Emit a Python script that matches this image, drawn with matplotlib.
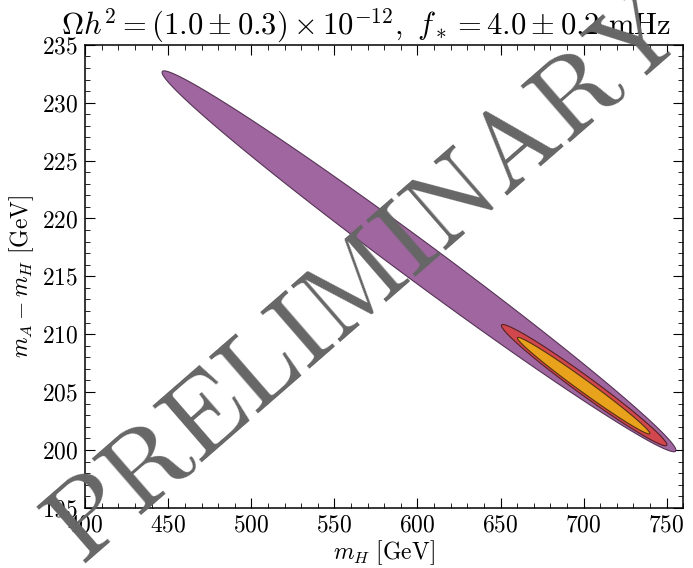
import numpy as np
import matplotlib
matplotlib.use("Agg")
from matplotlib import pyplot as plt

plt.rcParams['font.family'] = ['cmr10']
plt.rcParams['mathtext.fontset'] = 'cm'
plt.rcParams['axes.formatter.use_mathtext'] = True
plt.rcParams['axes.unicode_minus'] = False

# contour regions: centre, half major axis, conjugate half axis (data units)
region_names = ["outer", "middle", "inner"]
centre_x = [600.9, 700.3, 700.0]
centre_y = [216.3, 205.6, 205.55]
major_dx = [154.5, 49.7, 39.8]
major_dy = [-16.4, -5.2, -4.15]
minor_dx = [6.86, 3.2, 2.13]
minor_dy = [1.34, 0.63, 0.42]
fill_colors = ["#a0669f", "#d2464e", "#e9a21c"]
edge_colors = ["#553355", "#552222", "#553311"]

x_ticks = [400, 450, 500, 550, 600, 650, 700, 750]
y_ticks = [195, 200, 205, 210, 215, 220, 225, 230, 235]

fig, ax = plt.subplots(figsize=(6.93, 5.68), dpi=100)
plt.subplots_adjust(left=0.123, right=0.986, bottom=0.106, top=0.921)

t = np.linspace(0.0, 2.0 * np.pi, 500)
for i in range(len(region_names)):
    xs = centre_x[i] + np.cos(t) * major_dx[i] + np.sin(t) * minor_dx[i]
    ys = centre_y[i] + np.cos(t) * major_dy[i] + np.sin(t) * minor_dy[i]
    ax.fill(xs, ys, facecolor=fill_colors[i], edgecolor=edge_colors[i], lw=0.8, zorder=2 + i)

ax.set_xlim(400, 760)
ax.set_ylim(195, 235)
ax.set_xticks(x_ticks)
ax.set_yticks(y_ticks)
ax.set_xticks(np.arange(400, 761, 10), minor=True)
ax.set_yticks(np.arange(195, 236, 1), minor=True)
ax.tick_params(which='both', direction='in', top=True, right=True, labelsize=17, pad=5)
ax.tick_params(which='major', length=7, width=0.8)
ax.tick_params(which='minor', length=3.5, width=0.6)
for spine in ax.spines.values():
    spine.set_linewidth(1.1)

ax.set_xlabel(r"$m_H\ [\mathrm{GeV}]$", fontsize=17, labelpad=1)
ax.set_ylabel(r"$m_A - m_H\ [\mathrm{GeV}]$", fontsize=17, labelpad=4)
ax.set_title(r"$\Omega h^2 = (1.0 \pm 0.3) \times 10^{-12},\ f_* = 4.0 \pm 0.2\ \mathrm{mHz}$",
             fontsize=22, pad=2, x=0.47)

fig.text(0.53, 0.512, "PRELIMINARY", fontsize=79, color="#666666", rotation=41,
         ha='center', va='center', rotation_mode='anchor', zorder=10)

plt.savefig("out.png", dpi=100)
